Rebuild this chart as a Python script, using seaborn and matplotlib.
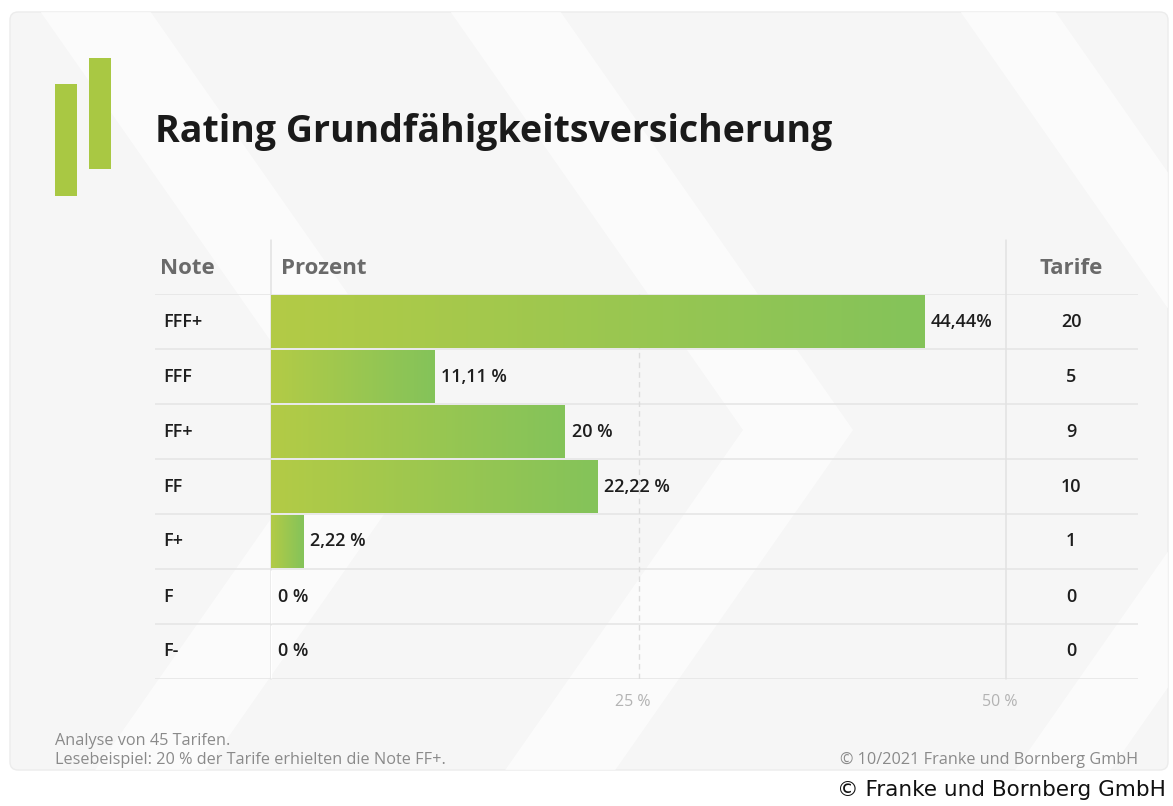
import numpy as np
import pandas as pd
import matplotlib
matplotlib.use("Agg")
import matplotlib.pyplot as plt
from matplotlib.patches import FancyBboxPatch, Rectangle, Polygon
from matplotlib.colors import LinearSegmentedColormap
from matplotlib.transforms import ScaledTranslation
import seaborn as sns

# ---------------- data ----------------
notes = ["FFF+", "FFF", "FF+", "FF", "F+", "F", "F-"]
percent = [44.44, 11.11, 20.0, 22.22, 2.22, 0.0, 0.0]
percent_labels = ["44,44%", "11,11 %", "20 %", "22,22 %", "2,22 %", "0 %", "0 %"]
tarife = [20, 5, 9, 10, 1, 0, 0]
x_ticks = [25, 50]
x_tick_labels = ["25 %", "50 %"]
title = "Rating Grundfähigkeitsversicherung"
header_note, header_pct, header_tarife = "Note", "Prozent", "Tarife"
foot_left = ["Analyse von 45 Tarifen.", "Lesebeispiel: 20 % der Tarife erhielten die Note FF+."]
foot_right = "© 10/2021 Franke und Bornberg GmbH"
credit = "© Franke und Bornberg GmbH"

# ---------------- style ----------------
sns.set_style("white")
plt.rcParams["font.family"] = ["Open Sans", "DejaVu Sans"]

W, H = 1173, 806
fig = plt.figure(figsize=(W / 100, H / 100), dpi=100)
fig.patch.set_facecolor("white")

def fx(x):
    return x / W

def fy(y):
    return 1 - y / H

# background card
bg = fig.add_axes([0, 0, 1, 1], zorder=-10)
bg.set_xlim(0, W)
bg.set_ylim(H, 0)
bg.axis("off")
card = FancyBboxPatch((10, 12), 1158, 758, boxstyle="round,pad=0,rounding_size=8",
                      facecolor="#f6f6f6", edgecolor="#ececec", lw=1)
bg.add_patch(card)
# decorative chevron stripes
for tip, w in [(333, 110), (743, 110), (1253, 95)]:
    top_y, mid_y, bot_y = 12, 430, 770
    dtop = (mid_y - top_y) / 1.43
    dbot = (bot_y - mid_y) / 1.43
    pts = [(tip - dtop, top_y), (tip - dtop + w, top_y), (tip + w, mid_y),
           (tip - dbot + w, bot_y), (tip - dbot, bot_y), (tip, mid_y)]
    poly = Polygon(pts, closed=True, facecolor="white", edgecolor="none", alpha=0.6)
    poly.set_clip_path(card)
    bg.add_patch(poly)

# logo
logo_c = "#a9c843"
bg.add_patch(Rectangle((55, 84), 22, 112, facecolor=logo_c, edgecolor="none"))
bg.add_patch(Rectangle((89, 58), 22, 111, facecolor=logo_c, edgecolor="none"))

# title
fig.text(fx(155), fy(132), title, fontsize=27, fontweight="bold", color="#1a1a1a",
         ha="left", va="center")

# ---------------- main axes ----------------
L, R, T, B = 155, 1138, 294, 679
px_per_unit = (1006 - 271) / 50.0
ax = fig.add_axes([fx(L), fy(B), (R - L) / W, (B - T) / H])
ax.patch.set_alpha(0)
xmin = (L - 271) / px_per_unit
xmax = (R - 271) / px_per_unit

df = pd.DataFrame({"Note": notes, "Prozent": percent})
sns.barplot(data=df, x="Prozent", y="Note", orient="h", width=0.95,
            color="#9cc650", saturation=1, ax=ax, zorder=3)

cmap = LinearSegmentedColormap.from_list("g", ["#b3cb46", "#84c35a"])
grad = np.linspace(0, 1, 256).reshape(1, -1)
for p in ax.patches:
    x0, y0 = p.get_x(), p.get_y()
    w, h = p.get_width(), p.get_height()
    if w <= 0:
        continue
    p.set_edgecolor("none")
    im = ax.imshow(grad, cmap=cmap, extent=[x0, x0 + w, y0 + h, y0], aspect="auto",
                   zorder=4, interpolation="bicubic")
    im.set_clip_path(p)

ax.set_xlim(xmin, xmax)
ax.set_ylim(6.5, -0.5)
for s in ax.spines.values():
    s.set_visible(False)
ax.set_yticks([])
ax.set_xticks(x_ticks)
ax.set_xticklabels(x_tick_labels, color="#b3b3b3", fontsize=11.5)
ax.tick_params(axis="x", length=0, pad=11)
shift = ScaledTranslation(-6 / 100, 0, fig.dpi_scale_trans)
for lbl in ax.get_xticklabels():
    lbl.set_transform(lbl.get_transform() + shift)
ax.set_xlabel("")
ax.set_ylabel("")

row_px = (B - T) / 7.0
y_top_ext = -0.5 - (T - 240) / row_px

# horizontal row lines
for i in range(8):
    ax.axhline(i - 0.5, color="#e4e4e4", lw=1.1, zorder=1)
# vertical lines
ax.plot([0, 0], [y_top_ext, 6.5], color="#e2e2e2", lw=1.1, zorder=2, clip_on=False)
ax.plot([50, 50], [y_top_ext, 6.5], color="#e2e2e2", lw=1.1, zorder=2, clip_on=False)
ax.plot([25, 25], [-0.5, 6.5], color="#dddddd", lw=1.0, ls=(0, (4, 3)), zorder=2)

# header
hy = -0.5 - (T - 268) / row_px
hdr_kw = dict(fontsize=16, fontweight="bold", color="#6a6a6a", va="center", clip_on=False)
ax.text((160 - 271) / px_per_unit, hy, header_note, ha="left", **hdr_kw)
ax.text((281 - 271) / px_per_unit, hy, header_pct, ha="left", **hdr_kw)
tar_x = (1071 - 271) / px_per_unit
ax.text(tar_x, hy, header_tarife, ha="center", **hdr_kw)

# rows
row_kw = dict(fontsize=13, fontweight="semibold", color="#1e1e1e", va="center")
for i, (n, v, lab, t) in enumerate(zip(notes, percent, percent_labels, tarife)):
    ax.text((163 - 271) / px_per_unit, i, n, ha="left", **row_kw)
    ax.text(v + 0.45, i, lab, ha="left", zorder=6, **row_kw)
    ax.text(tar_x, i, str(t), ha="center", **row_kw)

# footer
foot_kw = dict(fontsize=11.7, color="#8a8a8a", va="center")
fig.text(fx(55), fy(741), foot_left[0], ha="left", **foot_kw)
fig.text(fx(55), fy(760), foot_left[1], ha="left", **foot_kw)
fig.text(fx(1138), fy(760), foot_right, ha="right", **foot_kw)
fig.text(fx(1166), fy(790), credit, fontsize=15.5, color="#111111", ha="right", va="center",
         family=["DejaVu Sans"])

fig.savefig("out.png", dpi=100, facecolor="white")
